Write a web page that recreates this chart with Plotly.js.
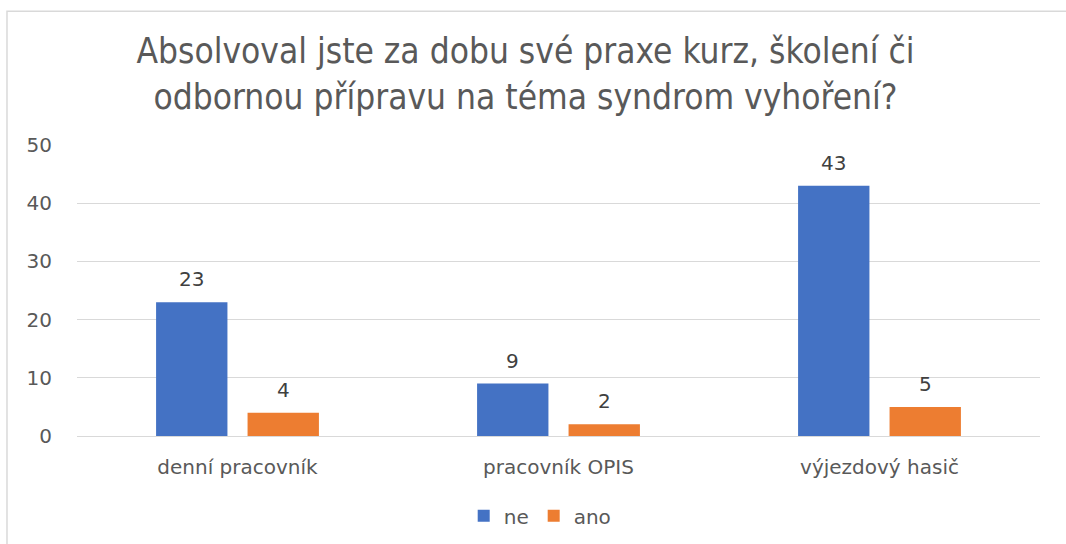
<!DOCTYPE html>
<html><head><meta charset="utf-8">
<script src="https://cdn.plot.ly/plotly-3.0.1.min.js"></script>
<style>html,body{margin:0;padding:0;background:#fff;}#chart{width:1066px;height:544px;}</style>
</head><body><div id="chart"></div>
<script>
const categories = ['denní pracovník', 'pracovník OPIS', 'výjezdový hasič'];
const seriesNames = ['ne', 'ano'];
const neValues = [23, 9, 43];
const anoValues = [4, 2, 5];
const yTicks = [0, 10, 20, 30, 40, 50];
const colors = ['#4472C4', '#ED7D31'];

const W = 1066, H = 544;
const margin = {l: 77, r: 26, t: 145, b: 108};
const bargap = 0.43, bargroupgap = 0.22;
const fontFam = 'DejaVu Sans, sans-serif';

const data = [
  {type: 'bar', name: seriesNames[0], x: categories, y: neValues, marker: {color: colors[0]}, hoverinfo: 'skip'},
  {type: 'bar', name: seriesNames[1], x: categories, y: anoValues, marker: {color: colors[1]}, hoverinfo: 'skip'}
];

// data labels above each bar, offset to the bar's slot within the group
const catWidthPx = (W - margin.l - margin.r) / categories.length;
const slotPx = catWidthPx * (1 - bargap) / 2;
const annotations = [];
[neValues, anoValues].forEach((vals, si) => {
  vals.forEach((v, ci) => {
    annotations.push({
      x: categories[ci], y: v, xref: 'x', yref: 'y', text: String(v), showarrow: false,
      xshift: (si === 0 ? -1 : 1) * slotPx / 2, yanchor: 'bottom', yshift: 9,
      font: {family: fontFam, size: 20, color: '#404040'}
    });
  });
});

const layout = {
  width: W, height: H, margin: margin,
  paper_bgcolor: '#fff', plot_bgcolor: '#fff',
  title: {
    text: 'Absolvoval jste za dobu své praxe kurz, školení či<br>odbornou přípravu na téma syndrom vyhoření?',
    font: {family: 'DejaVu Sans Condensed, Liberation Sans Narrow, sans-serif', size: 35, color: '#595959'},
    x: 0.493, xanchor: 'center', y: 0.884, yanchor: 'top'
  },
  barmode: 'group', bargap: bargap, bargroupgap: bargroupgap,
  xaxis: {
    type: 'category', showgrid: false, showline: true, linecolor: '#d9d9d9', linewidth: 1,
    ticks: '', ticklabelstandoff: 13, automargin: false,
    tickfont: {family: fontFam, size: 20, color: '#595959'}
  },
  yaxis: {
    range: [0, 50], tickvals: yTicks, showgrid: true, gridcolor: '#d9d9d9', gridwidth: 1,
    zeroline: false, showline: false, ticks: '', ticklabelstandoff: 24, automargin: false,
    tickfont: {family: fontFam, size: 20, color: '#595959'}
  },
  showlegend: true,
  legend: {orientation: 'h', x: 0.481, xanchor: 'center', yref: 'container', y: 0.052, yanchor: 'middle',
    font: {family: fontFam, size: 20, color: '#595959'}},
  annotations: annotations,
  shapes: [{type: 'rect', xref: 'paper', yref: 'paper', x0: -0.0727, x1: 1.1, y0: -0.5, y1: 1.46,
    line: {color: '#d9d9d9', width: 1.5}, fillcolor: 'rgba(0,0,0,0)', layer: 'below'}]
};
Plotly.newPlot('chart', data, layout, {displayModeBar: false, staticPlot: true});
</script></body></html>
